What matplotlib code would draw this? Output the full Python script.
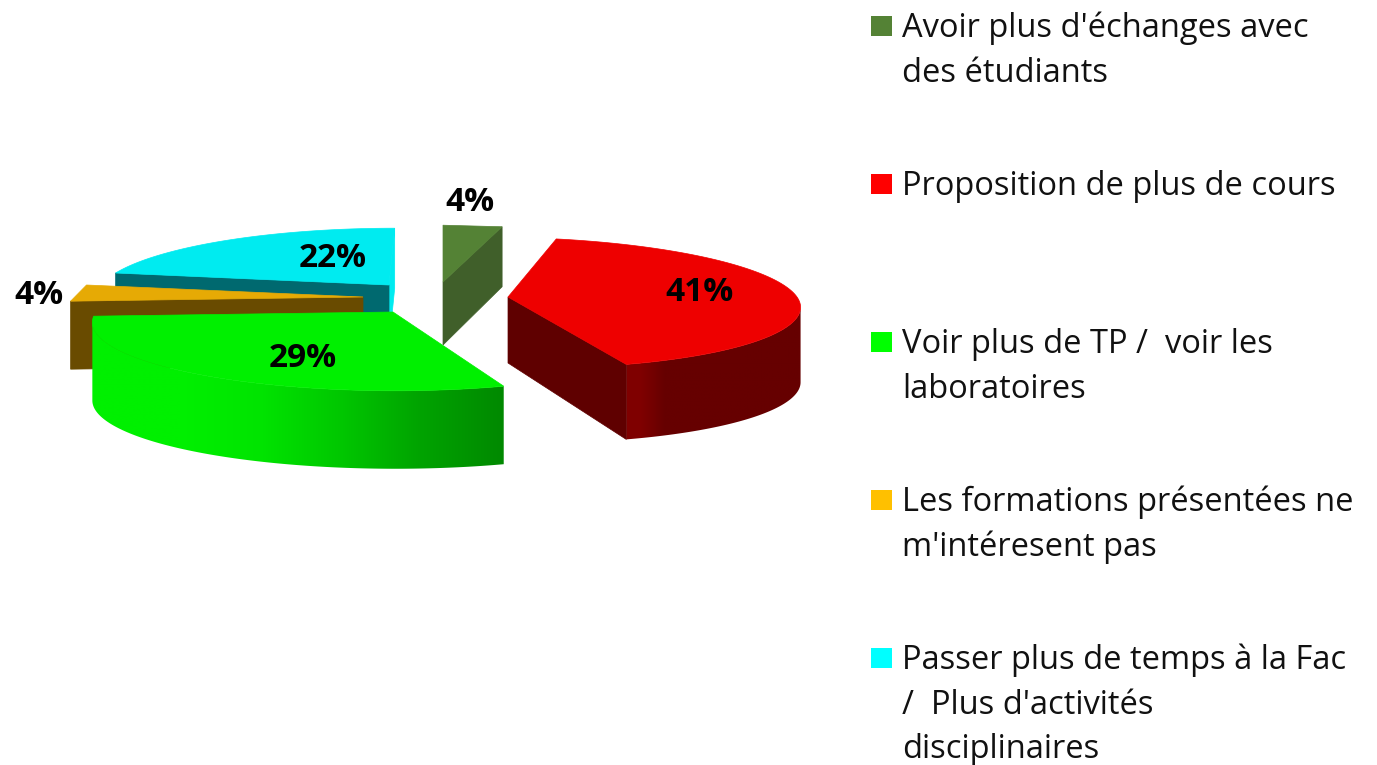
import matplotlib
matplotlib.use('Agg')
import matplotlib.pyplot as plt
from matplotlib.patches import Polygon, Rectangle
from matplotlib.colors import to_rgb
import numpy as np

plt.rcParams['font.family'] = ['Open Sans', 'DejaVu Sans']

# data, clockwise from 12 o'clock
labels = ["Avoir plus d'échanges avec\ndes étudiants",
          "Proposition de plus de cours",
          "Voir plus de TP /  voir les\nlaboratoires",
          "Les formations présentées ne\nm'intéresent pas",
          "Passer plus de temps à la Fac\n/  Plus d'activités\ndisciplinaires"]
values = [4, 41, 29, 4, 22]

# looks of each slice
legend_colors = ['#548235', '#ff0000', '#00ff00', '#ffc000', '#00ffff']
top_colors = ['#548235', '#ee0000', '#00f000', '#e6aa05', '#00ebf0']
wall_colors = ['#405f2a', '#660000', '#00f000', '#694b00', '#00696f']
apex_x = [443, 508, 393, 363, 389]
apex_y = [282, 297, 312, 297, 285]
radius_x = [275, 289, 297, 290, 288]
radius_y = [66, 65, 66, 66, 66]
persp = [0.162, 0.087, 0.162, 0.162, 0.162]
skew = [0, -0.31, -0.03, 0, 0.1]
depth = [60, 75, 78, 68, 60]
apex_depth = [63, 66, 78, 68, 60]
layer = [4, 5, 3, 2, 1]
label_x = [470, 699, 303, 39, 333]
label_y = [202, 292, 358, 295, 258]
legend_baseline = [37, 195, 353, 511, 669]
line_step = 44.5


def project(i, theta):
    # theta in radians, clockwise from the back of the pie
    u = np.sin(theta)
    v = np.cos(theta)
    w = 1 + persp[i] * v
    y = radius_y[i] * v / w
    x = radius_x[i] * u / w + skew[i] * y
    return apex_x[i] + x, apex_y[i] - y


def side_wall(ax, i, theta, color):
    # flat cut face going from the centre to the rim
    x, y = project(i, theta)
    pts = [(apex_x[i], apex_y[i]), (x, y), (x, y + depth[i]), (apex_x[i], apex_y[i] + apex_depth[i])]
    ax.add_patch(Polygon(pts, closed=True, fc=color, ec=color, lw=0.5, zorder=layer[i]))


def rim_wall(ax, i, a0, a1, shade_x, shade):
    # outer wall: a horizontal gradient image clipped to the wall shape
    t = np.linspace(a0, a1, 240)
    x, y = project(i, t)
    # keep only the part of the rim that faces the viewer
    start = np.argmax(x)
    end = np.argmin(x)
    if end < start:
        end = len(t) - 1
    x, y = x[start:end + 1], y[start:end + 1]
    pts = np.column_stack([np.r_[x, x[::-1]], np.r_[y, y[::-1] + depth[i]]])
    poly = Polygon(pts, closed=True, fc='none', ec='none')
    ax.add_patch(poly)
    xs = np.arange(np.floor(x.min()), np.ceil(x.max()) + 1)
    base = np.array(to_rgb(wall_colors[i]))
    row = np.clip(np.outer(np.interp(xs, shade_x, shade), base), 0, 1)[np.newaxis, :, :]
    im = ax.imshow(row, extent=(xs[0], xs[-1], pts[:, 1].max() + 1, pts[:, 1].min() - 1),
                   aspect='auto', interpolation='bilinear', zorder=layer[i])
    im.set_clip_path(poly)


def top_face(ax, i, a0, a1):
    # the two thin slices have a straight outer edge in the reference
    n = 2 if values[i] < 5 else 120
    t = np.linspace(a0, a1, n)
    x, y = project(i, t)
    pts = np.column_stack([np.r_[apex_x[i], x], np.r_[apex_y[i], y]])
    ax.add_patch(Polygon(pts, closed=True, fc=top_colors[i], ec=top_colors[i], lw=0.5, zorder=layer[i] + 0.5))


fig = plt.figure(figsize=(13.77, 7.65), dpi=100)
ax = fig.add_axes([0, 0, 1, 1])

edges = np.radians(np.cumsum([0] + values) * 3.6)

# cyan
side_wall(ax, 4, edges[5], top_colors[4])
side_wall(ax, 4, edges[4], wall_colors[4])
top_face(ax, 4, edges[4], edges[5])
# orange
side_wall(ax, 3, edges[3], wall_colors[3])
top_face(ax, 3, edges[3], edges[4])
# green
rim_wall(ax, 2, edges[2], edges[3], [180, 260, 340, 420, 504], [1, 0.95, 0.83, 0.68, 0.57])
top_face(ax, 2, edges[2], edges[3])
# dark green
side_wall(ax, 0, edges[1], wall_colors[0])
top_face(ax, 0, edges[0], edges[1])
# red
rim_wall(ax, 1, edges[1], edges[2], [628, 640, 665, 800], [1.25, 1.25, 1, 1])
side_wall(ax, 1, edges[2], '#5f0000')
top_face(ax, 1, edges[1], edges[2])

ax.set_xlim(0, 1377)
ax.set_ylim(765, 0)
ax.axis('off')

# value labels
for v, x, y in zip(values, label_x, label_y):
    ax.text(x, y, '%d%%' % v, fontsize=24, fontweight='bold', color='black', ha='center', va='center', zorder=10)

# legend, written by hand because each line sits at its own place
for lab, c, base in zip(labels, legend_colors, legend_baseline):
    ax.add_patch(Rectangle((871, base - 21), 21, 20, fc=c, ec='none'))
    for n, line in enumerate(lab.split('\n')):
        ax.text(902, base + n * line_step, line, fontsize=23.5, color='#111111', ha='left', va='baseline')

fig.savefig('out.png', dpi=100, facecolor='white')
